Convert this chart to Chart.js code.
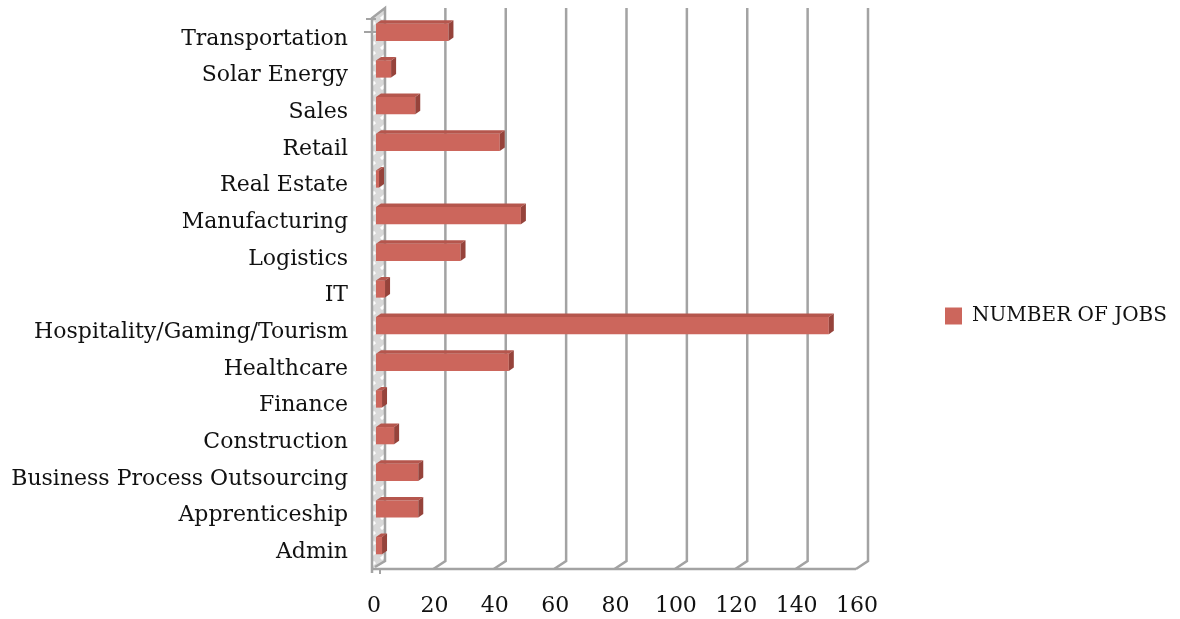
<!DOCTYPE html>
<html>
<head>
<meta charset="utf-8">
<title>Number of jobs by sector</title>
<script src="https://cdn.jsdelivr.net/npm/chart.js@4.4.1/dist/chart.umd.min.js"></script>
<style>
  html, body { margin: 0; padding: 0; background: #fff; }
  #wrap { width: 1180px; height: 619px; }
</style>
</head>
<body>
<div id="wrap"><canvas id="jobsChart"></canvas></div>
<script>
// sectors, top to bottom
const categories = [
  'Transportation',
  'Solar Energy',
  'Sales',
  'Retail',
  'Real Estate',
  'Manufacturing',
  'Logistics',
  'IT',
  'Hospitality/Gaming/Tourism',
  'Healthcare',
  'Finance',
  'Construction',
  'Business Process Outsourcing',
  'Apprenticeship',
  'Admin'
];
const jobCounts = [24, 5, 13, 41, 1, 48, 28, 3, 150, 44, 2, 6, 14, 14, 2];
const xTicks = [0, 20, 40, 60, 80, 100, 120, 140, 160];

const FONT = { family: '"DejaVu Serif", serif', size: 22 };
const LEGEND_FONT = { family: '"DejaVu Serif", serif', size: 20 };
const BAR_FRONT = '#CC665C';
const BAR_TOP = '#B5564D';
const BAR_SIDE = '#96433B';
const WALL_LINE = '#A3A3A3';

// fake excel-style 3D: back wall gridlines, floor, left wall, bar depth faces
const DEPTH_BACK = 9;   // back plane offset in x
const DEPTH_FRONT = -3; // front plane offset in x
const FLOOR_DY = 8;

function wallPattern(ctx) {
  const c = document.createElement('canvas');
  c.width = 14; c.height = 10;
  const p = c.getContext('2d');
  p.fillStyle = '#d9d9d9';
  p.fillRect(0, 0, 14, 10);
  p.strokeStyle = '#ffffff';
  p.lineWidth = 3;
  p.beginPath();
  p.moveTo(3, 9); p.lineTo(11, 2);
  p.stroke();
  return ctx.createPattern(c, 'repeat');
}

const box3d = {
  id: 'box3d',
  beforeDatasetsDraw(chart) {
    const { ctx, chartArea } = chart;
    const xs = chart.scales.x;
    const x0 = xs.getPixelForValue(0);
    const top = chartArea.top - 6;
    const backBottom = chartArea.bottom - 3;
    const floorY = backBottom + FLOOR_DY;

    ctx.save();
    ctx.strokeStyle = WALL_LINE;
    ctx.lineWidth = 2.5;
    ctx.lineJoin = 'miter';

    // left wall
    const wl = x0 + DEPTH_FRONT - 1;
    const wr = x0 + DEPTH_BACK;
    ctx.fillStyle = wallPattern(ctx);
    ctx.beginPath();
    ctx.moveTo(wl, top + 10);
    ctx.lineTo(wr, top);
    ctx.lineTo(wr, backBottom);
    ctx.lineTo(wl, floorY);
    ctx.closePath();
    ctx.fill();
    ctx.beginPath();
    ctx.moveTo(wl, floorY + 4);
    ctx.lineTo(wl, top + 10);
    ctx.lineTo(wr, top);
    ctx.lineTo(wr, backBottom);
    ctx.lineTo(wl + 3, floorY - 2);
    ctx.stroke();

    // gridlines on the back wall, bending onto the floor
    xTicks.slice(1).forEach(v => {
      const px = xs.getPixelForValue(v);
      ctx.beginPath();
      ctx.moveTo(px + DEPTH_BACK, top);
      ctx.lineTo(px + DEPTH_BACK, backBottom);
      ctx.lineTo(px + DEPTH_FRONT, floorY);
      ctx.stroke();
    });

    // floor front edge
    ctx.beginPath();
    ctx.moveTo(wl, floorY);
    ctx.lineTo(xs.getPixelForValue(xTicks[xTicks.length - 1]) + DEPTH_FRONT, floorY);
    ctx.stroke();

    // small axis marks at the corners
    ctx.lineWidth = 2;
    ctx.beginPath();
    ctx.moveTo(wl - 8, top + 24); ctx.lineTo(wl + 6, top + 24);
    ctx.moveTo(wl - 6, top + 11); ctx.lineTo(wl + 4, top + 11);
    ctx.moveTo(wl + 8, floorY); ctx.lineTo(wl + 8, floorY + 5);
    ctx.stroke();
    ctx.restore();
  },
  afterDatasetsDraw(chart) {
    const { ctx } = chart;
    const dx = 5, dy = 3.5;
    ctx.save();
    chart.getDatasetMeta(0).data.forEach(bar => {
      const { x, y, base, height } = bar.getProps(['x', 'y', 'base', 'height'], true);
      const t = y - height / 2;
      // top face
      ctx.fillStyle = BAR_TOP;
      ctx.beginPath();
      ctx.moveTo(base, t);
      ctx.lineTo(base + dx, t - dy);
      ctx.lineTo(x + dx, t - dy);
      ctx.lineTo(x, t);
      ctx.closePath();
      ctx.fill();
      // right side face
      ctx.fillStyle = BAR_SIDE;
      ctx.beginPath();
      ctx.moveTo(x, t);
      ctx.lineTo(x + dx, t - dy);
      ctx.lineTo(x + dx, t - dy + height);
      ctx.lineTo(x, t + height);
      ctx.closePath();
      ctx.fill();
    });
    ctx.restore();
  }
};

new Chart(document.getElementById('jobsChart'), {
  type: 'bar',
  data: {
    labels: categories,
    datasets: [{
      label: 'NUMBER OF JOBS',
      data: jobCounts,
      backgroundColor: BAR_FRONT,
      borderWidth: 0,
      barPercentage: 0.47,
      categoryPercentage: 1
    }]
  },
  options: {
    indexAxis: 'y',
    responsive: true,
    maintainAspectRatio: false,
    animation: false,
    layout: { padding: { top: 14, right: 2, bottom: 1, left: 0 } },
    plugins: {
      tooltip: { enabled: false },
      legend: {
        position: 'right',
        maxWidth: 420,
        labels: {
          font: LEGEND_FONT,
          color: '#111',
          boxWidth: 17,
          boxHeight: 17,
          padding: 86
        }
      }
    },
    scales: {
      x: {
        min: 0,
        max: 160,
        afterBuildTicks(scale) {
          scale.ticks = xTicks.map(v => ({ value: v }));
        },
        afterFit(scale) {
          scale.height = 54;
          scale.paddingLeft = 0;
          scale.paddingRight = 321;
        },
        grid: { display: false, drawTicks: false },
        border: { display: false },
        ticks: { font: FONT, color: '#111', padding: 29, labelOffset: -2, maxRotation: 0, minRotation: 0 }
      },
      y: {
        afterFit(scale) {
          scale.width = 376;
          scale.paddingTop = 0;
          scale.paddingBottom = 0;
        },
        grid: { display: false, drawTicks: false },
        border: { display: false },
        ticks: { font: FONT, color: '#111', padding: 28, labelOffset: 6.5 }
      }
    }
  },
  plugins: [box3d]
});
</script>
</body>
</html>
